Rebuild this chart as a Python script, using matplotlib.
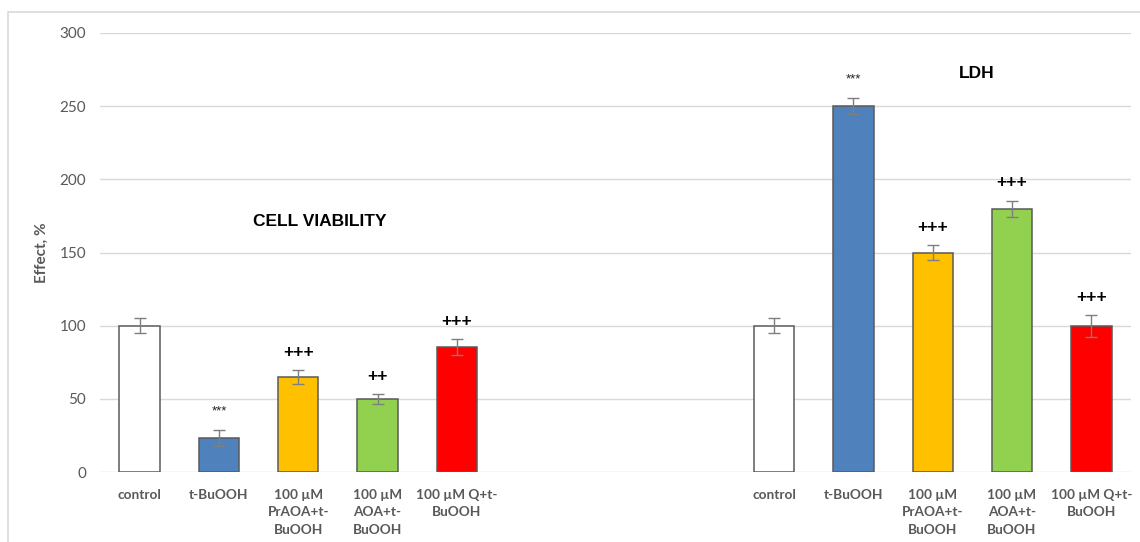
import numpy as np
import matplotlib
matplotlib.use("Agg")
import matplotlib.pyplot as plt
from matplotlib.patches import Rectangle

# ---- data: two assays on one shared category axis, 3 empty slots between them
labels = ["control", "t-BuOOH", "100 µM\nPrAOA+t-\nBuOOH", "100 µM\nAOA+t-\nBuOOH", "100 µM Q+t-\nBuOOH"]
viability = [100, 23, 65, 50, 85.5]
viability_err = [5, 5.5, 5, 3.5, 5.5]
viability_marks = ["", "***", "+++", "++", "+++"]
ldh = [100, 250, 150, 180, 100]
ldh_err = [5, 5.5, 5, 5.5, 7.5]
ldh_marks = ["", "***", "+++", "+++", "+++"]
GAP = 3

colors = ["white", "#4f81bd", "#ffc000", "#92d050", "#ff0000"]
GREY = "#595959"

fig = plt.figure(figsize=(11.4, 5.42), dpi=100)
ax = fig.add_axes([100 / 1140, 1 - 472 / 542, 1031 / 1140, 439 / 542])

# outer chart frame (runs off the right/bottom edge)
fig.patches.append(Rectangle((8 / 1140, -0.05), 1.1, 1 - 12 / 542 + 0.05,
                             transform=fig.transFigure, fill=False,
                             edgecolor="#d9d9d9", lw=1.2, zorder=0))

n = len(labels)
x_left = np.arange(n)
x_right = np.arange(n) + n + GAP
xs = np.concatenate([x_left, x_right])
vals = viability + ldh
errs = viability_err + ldh_err
marks = viability_marks + ldh_marks

ax.bar(xs, vals, width=0.51, color=colors * 2, edgecolor="#5a5a5a", lw=1.1, zorder=3)
ax.errorbar(xs, vals, yerr=errs, fmt="none", ecolor="#7f7f7f", elinewidth=1,
            capsize=4, capthick=1, zorder=4)

for x, v, e, m in zip(xs, vals, errs, marks):
    if not m:
        continue
    if m.startswith("*"):
        ax.text(x, v + e + 13, m, ha="center", va="center", fontsize=9.5,
                family="Liberation Sans", color="#222222")
    else:
        ax.text(x, v + e + 12, m, ha="center", va="center", fontsize=12.5,
                fontweight="bold", family="Liberation Sans", color="black")

ax.text(2.27, 171, "CELL VIABILITY", ha="center", va="center", fontsize=12.5,
        fontweight="bold", family="Liberation Sans")
ax.text(10.56, 272, "LDH", ha="center", va="center", fontsize=12.5,
        fontweight="bold", family="Liberation Sans")

ax.set_xlim(-0.5, 2 * n + GAP - 0.5)
ax.set_ylim(0, 300)
ax.set_yticks(np.arange(0, 301, 50))
ax.yaxis.grid(True, color="#d9d9d9", lw=1)
ax.set_axisbelow(True)
for s in ax.spines.values():
    s.set_visible(False)

tick_pos = np.arange(2 * n + GAP)
tick_lab = labels + [""] * GAP + labels
ax.set_xticks(tick_pos)
ax.set_xticklabels(tick_lab, fontsize=9.8, fontweight="bold", family="Lato",
                   color=GREY, linespacing=1.55, va="top")
ax.tick_params(axis="x", length=0, pad=12)
ax.tick_params(axis="y", length=0, pad=10, labelsize=11, labelcolor=GREY)
for t in ax.get_yticklabels():
    t.set_family("Lato")

ax.set_ylabel("Effect, %", fontsize=11, fontweight="bold", color=GREY,
              family="Lato", labelpad=8)

fig.savefig("out.png", dpi=100)
